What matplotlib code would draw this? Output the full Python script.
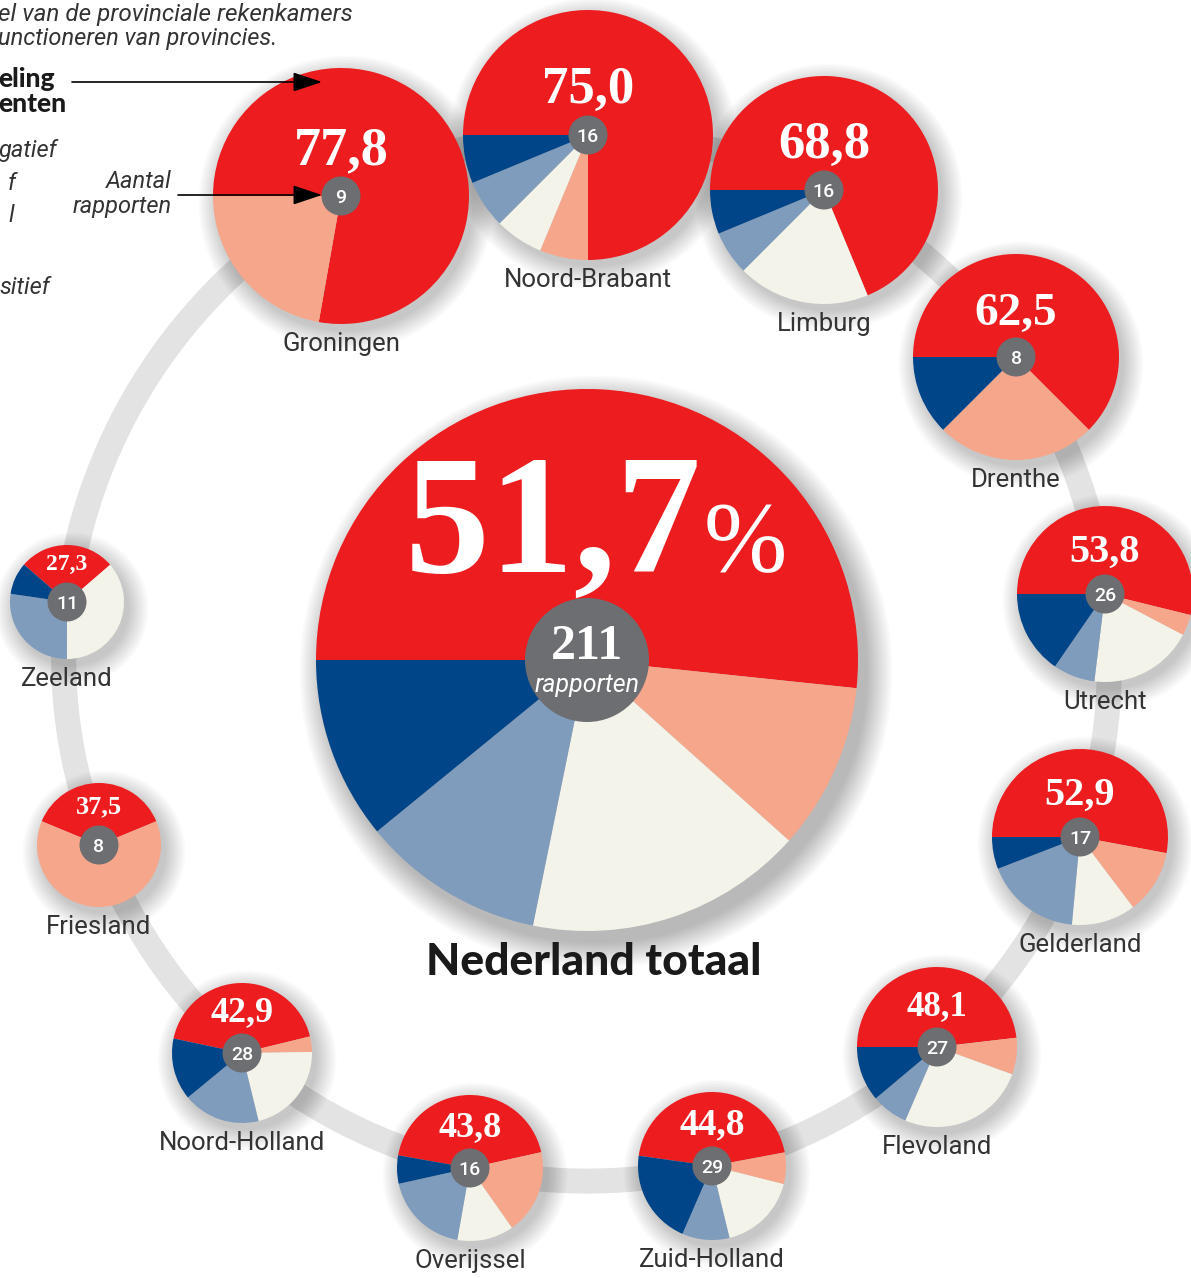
import numpy as np
import matplotlib.pyplot as plt
from matplotlib.patches import Circle

W, H = 1191, 1278

# aantal rapporten per provincie en per oordeel
provincies = ['Groningen', 'Noord-Brabant', 'Limburg', 'Drenthe', 'Utrecht', 'Gelderland',
              'Flevoland', 'Zuid-Holland', 'Overijssel', 'Noord-Holland', 'Friesland', 'Zeeland']
zeer_negatief = [7, 12, 11, 5, 14, 9, 13, 13, 7, 12, 3, 3]
negatief = [2, 1, 0, 2, 1, 2, 2, 2, 3, 1, 5, 0]
neutraal = [0, 1, 3, 0, 5, 2, 7, 5, 2, 6, 0, 4]
positief = [0, 1, 1, 0, 2, 3, 2, 3, 3, 5, 0, 3]
zeer_positief = [0, 1, 1, 1, 4, 1, 3, 6, 1, 4, 0, 1]

kleuren = ['#EC1C1F', '#F6A68A', '#F4F3E9', '#809CBC', '#004587']

# layout in pixels (origin top-left)
pos_x = [341, 588, 824, 1016, 1105, 1080, 937, 712, 470, 242, 99, 67]
pos_y = [196, 135, 190, 357, 594, 837, 1047, 1166, 1168, 1053, 845, 602]
straal = [128, 125, 114, 103, 88, 88, 80, 74, 73, 70, 62, 57]
start = [180, 180, 180, 180, 180, 180, 180, 172, 170, 168, 157.5, 139]
lbl_size = [39, 38, 38, 34, 29, 29, 25, 27, 26, 26, 19, 17]

fig = plt.figure(figsize=(W / 100, H / 100), dpi=100)
ax = fig.add_axes([0, 0, 1, 1])


def Y(y):
    return H - y


def shadow(cx, cy, r, dx, dy, n=14):
    for k in range(n):
        ax.add_patch(Circle((cx + dx, Y(cy) - dy), r + 1.5 * k, color='black',
                            alpha=0.016, lw=0, zorder=2))


# grijze ring: glad interpoleren in poolcoordinaten rond het midden
mx, my = 595, Y(680)
px = np.array(pos_x, float) - mx
py = np.array([Y(v) for v in pos_y], float) - my
theta = np.unwrap(np.arctan2(py, px))
rho = np.hypot(px, py)
Pp = np.column_stack([theta, rho])
N = len(Pp)
out = []
t = np.linspace(0, 1, 40, endpoint=False)[:, None]
for i in range(N):
    p0, p1, p2, p3 = Pp[(i - 1) % N].copy(), Pp[i].copy(), Pp[(i + 1) % N].copy(), Pp[(i + 2) % N].copy()
    if i - 1 < 0:
        p0[0] += 2 * np.pi
    if i + 1 >= N:
        p2[0] -= 2 * np.pi
    if i + 2 >= N:
        p3[0] -= 2 * np.pi
    out.append(0.5 * (2 * p1 + (-p0 + p2) * t + (2 * p0 - 5 * p1 + 4 * p2 - p3) * t ** 2
                      + (-p0 + 3 * p1 - 3 * p2 + p3) * t ** 3))
out.append(Pp[:1])
ring = np.vstack(out)
ax.plot(mx + ring[:, 1] * np.cos(ring[:, 0]), my + ring[:, 1] * np.sin(ring[:, 0]),
        color='#E3E3E3', lw=18, solid_capstyle='round', zorder=1)

# provincie-taarten
for i, naam in enumerate(provincies):
    vals = [zeer_negatief[i], negatief[i], neutraal[i], positief[i], zeer_positief[i]]
    v = [a for a in vals if a > 0]
    c = [k for a, k in zip(vals, kleuren) if a > 0]
    cx, cy, r = pos_x[i], pos_y[i], straal[i]
    shadow(cx, cy, r, 5, 7)
    ax.pie(v, colors=c, startangle=start[i], counterclock=False, center=(cx, Y(cy)),
           radius=r, wedgeprops=dict(linewidth=0, zorder=3))
    ax.add_patch(Circle((cx, Y(cy)), 19.5, color='#6D6E71', lw=0, zorder=4))
    n = sum(vals)
    ax.text(cx, Y(cy), str(n), ha='center', va='center_baseline', color='white',
            fontsize=14, family='Roboto', fontweight='medium', zorder=5)
    pct = f"{100 * zeer_negatief[i] / n:.1f}".replace('.', ',')
    ax.text(cx, Y(cy - 32), pct, ha='center', va='baseline', color='white',
            fontsize=lbl_size[i], family='Liberation Serif', fontweight='bold', zorder=5)
    ax.text(cx, Y(cy + r + 20), naam, ha='center', va='center', color='#333333',
            fontsize=18.5, family='Roboto', zorder=5)

# Nederland totaal
tot = [sum(zeer_negatief), sum(negatief), sum(neutraal), sum(positief), sum(zeer_positief)]
ncx, ncy, nr = 587, 660, 271
shadow(ncx, ncy, nr, 9, 12, n=18)
ax.pie(tot, colors=kleuren, startangle=180, counterclock=False, center=(ncx, Y(ncy)),
       radius=nr, wedgeprops=dict(linewidth=0, zorder=3))
ax.add_patch(Circle((ncx, Y(ncy)), 62, color='#6D6E71', lw=0, zorder=4))
ntot = sum(tot)
pct_tot = f"{100 * tot[0] / ntot:.1f}".replace('.', ',')
ax.text(405, Y(572), pct_tot, ha='left', va='baseline', color='white', fontsize=122,
        family='Liberation Serif', fontweight='bold', zorder=5)
ax.text(704, Y(570), '%', ha='left', va='baseline', color='white', fontsize=72,
        family='Liberation Serif', zorder=5)
ax.text(ncx, Y(659), str(ntot), ha='center', va='baseline', color='white', fontsize=36,
        family='Liberation Serif', fontweight='bold', zorder=5)
ax.text(ncx, Y(692), 'rapporten', ha='center', va='baseline', color='white', fontsize=18,
        family='Roboto', style='italic', zorder=5)
ax.text(594, Y(962), 'Nederland totaal', ha='center', va='center', color='#1A1A1A',
        fontsize=32, family='Lato', fontweight='black', zorder=5)

# toelichting linksboven (afgesneden zoals in het origineel)
tc = '#333333'
ax.text(-2, Y(14), 'el van de provinciale rekenkamers', ha='left', va='center', color=tc,
        fontsize=17.5, family='Roboto', style='italic')
ax.text(-2, Y(38), 'unctioneren van provincies.', ha='left', va='center', color=tc,
        fontsize=17, family='Roboto', style='italic')
ax.text(-2, Y(79), 'eling', ha='left', va='center', color='#1A1A1A', fontsize=19,
        family='Lato', fontweight='black')
ax.text(-2, Y(104), 'enten', ha='left', va='center', color='#1A1A1A', fontsize=19,
        family='Lato', fontweight='black')
for txt, x, y in [('gatief', -1, 150), ('f', 8, 183), ('l', 8, 215), ('sitief', -1, 287)]:
    ax.text(x, Y(y), txt, ha='left', va='center', color=tc, fontsize=17,
            family='Roboto', style='italic')
ax.text(172, Y(182), 'Aantal', ha='right', va='center', color=tc, fontsize=17,
        family='Roboto', style='italic')
ax.text(172, Y(206), 'rapporten', ha='right', va='center', color=tc, fontsize=17,
        family='Roboto', style='italic')

pijl = dict(arrowstyle='-|>,head_length=0.6,head_width=0.2', color='black', lw=1.2,
            mutation_scale=30, shrinkA=0, shrinkB=0)
ax.annotate('', xy=(322, Y(82)), xytext=(72, Y(82)), arrowprops=pijl, zorder=6)
ax.annotate('', xy=(322, Y(195)), xytext=(178, Y(195)), arrowprops=pijl, zorder=6)

ax.set_xlim(0, W)
ax.set_ylim(0, H)
ax.set_aspect('equal')
ax.set_axis_off()
fig.savefig('out.png', dpi=100, facecolor='white')
